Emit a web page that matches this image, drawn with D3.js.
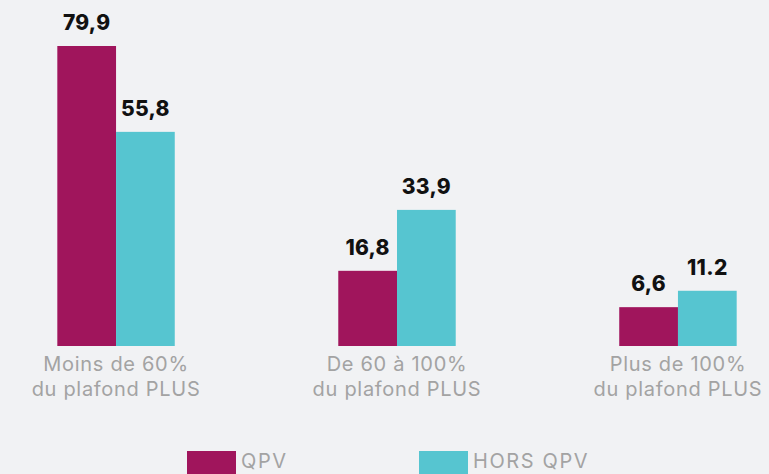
<!DOCTYPE html>
<html>
<head>
<meta charset="utf-8">
<script src="https://cdn.jsdelivr.net/npm/d3@7"></script>
<style>
  html, body { margin: 0; padding: 0; background: #f1f2f4; }
  svg { display: block; }
</style>
</head>
<body>
<svg id="chart" width="769" height="474"></svg>
<script>
const categories = [
  ["Moins de 60%", "du plafond PLUS"],
  ["De 60 à 100%", "du plafond PLUS"],
  ["Plus de 100%", "du plafond PLUS"]
];
const seriesNames = ["QPV", "HORS QPV"];
const qpvValues = [79.9, 16.8, 6.6];
const horsQpvValues = [55.8, 33.9, 11.2];
const valueLabelsQpv = ["79,9", "16,8", "6,6"];
const valueLabelsHors = ["55,8", "33,9", "11.2"];
const colors = ["#a0155c", "#56c5d0"];

const W = 769, H = 474;
const svg = d3.select("#chart");
svg.append("rect").attr("width", W).attr("height", H).attr("fill", "#f1f2f4");

const catKeys = categories.map((c, i) => i);
const x0 = d3.scaleBand().domain(catKeys).range([0, 794]).paddingInner(0.582).paddingOuter(0.204);
const x1 = d3.scaleBand().domain(seriesNames).range([0, x0.bandwidth()]).padding(0);
const y = d3.scaleLinear().domain([-4.3, 79.9]).range([346, 46]);

const rows = catKeys.map(i => [
  {series: seriesNames[0], value: qpvValues[i], label: valueLabelsQpv[i], color: colors[0]},
  {series: seriesNames[1], value: horsQpvValues[i], label: valueLabelsHors[i], color: colors[1]}
]);

const groups = svg.selectAll("g.group").data(rows).join("g")
  .attr("class", "group")
  .attr("transform", (d, i) => `translate(${x0(i)},0)`);

groups.selectAll("rect").data(d => d).join("rect")
  .attr("x", d => x1(d.series))
  .attr("y", d => y(d.value))
  .attr("width", x1.bandwidth())
  .attr("height", d => y(-4.3) - y(d.value))
  .attr("fill", d => d.color);

groups.selectAll("text.val").data(d => d).join("text")
  .attr("class", "val")
  .attr("x", d => x1(d.series) + x1.bandwidth() / 2)
  .attr("y", d => y(d.value) - 16)
  .attr("text-anchor", "middle")
  .attr("font-family", "Inter, sans-serif")
  .attr("font-weight", 800)
  .attr("font-size", 21)
  .attr("letter-spacing", 0.3)
  .attr("fill", "#111")
  .text(d => d.label);

// category labels (one text per line)
const catG = svg.append("g");
categories.forEach((lines, i) => {
  lines.forEach((ln, j) => {
    catG.append("text")
      .attr("text-anchor", "middle")
      .attr("font-family", "Inter, sans-serif")
      .attr("font-size", 20)
      .attr("fill", "#a3a3a3")
      .attr("letter-spacing", 0.7)
      .attr("x", x0(i) + x0.bandwidth() / 2)
      .attr("y", 371 + j * 24.5)
      .text(ln);
  });
});

// legend
const leg = svg.append("g");
seriesNames.forEach((name, i) => {
  const lx = 187 + i * 232;
  leg.append("rect").attr("x", lx).attr("y", 451).attr("width", 49).attr("height", 30).attr("fill", colors[i]);
  leg.append("text")
    .attr("x", lx + 54)
    .attr("y", 468)
    .attr("font-family", "Inter, sans-serif")
    .attr("font-size", 20)
    .attr("fill", "#a3a3a3")
    .attr("letter-spacing", 1.6)
    .text(name);
});
</script>
</body>
</html>
